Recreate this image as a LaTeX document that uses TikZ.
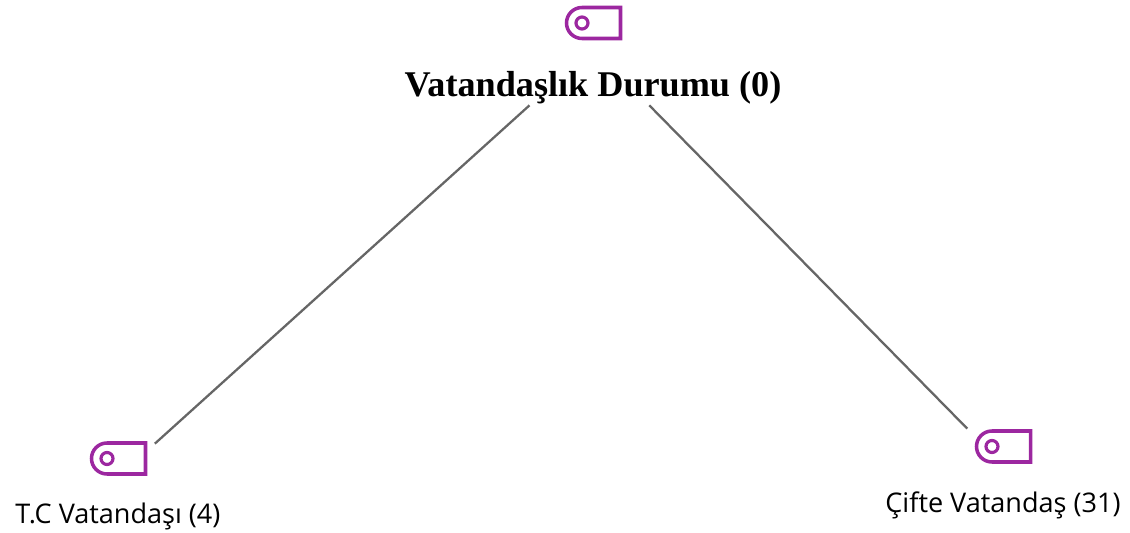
\documentclass[tikz,border=0pt]{standalone}
\usepackage{fontspec}
\setmainfont{Open Sans}
\newfontfamily\titlefont{Liberation Serif}
\definecolor{tagpurple}{HTML}{9C27A0}
\definecolor{edgegray}{HTML}{666666}
\tikzset{
  tag/.pic={
    \draw [tagpurple, line width=2pt, line join=miter]
      (38.5,-15.5) -- (0,-15.5) arc[start angle=270, end angle=90, radius=15.5] -- (38.5,15.5) -- cycle;
    \draw [tagpurple, line width=1.8pt] (0,0) circle[radius=6];
  },
  hub/.style={minimum width=6cm, minimum height=2.28cm, inner sep=0pt},
  leaf/.style={minimum width=4cm, inner sep=0pt},
  edge/.style={edgegray, line width=1.3pt},
  titletext/.style={inner sep=0pt, font=\titlefont\bfseries\fontsize{20.6}{24}\selectfont},
  leaftext/.style={inner sep=0pt, font=\fontsize{15.4}{18}\selectfont}
}
\begin{document}
\begin{tikzpicture}[x=0.02cm, y=-0.02cm]
    \useasboundingbox (0, 0) rectangle (1130, 533);
    \pic at (582, 23) {tag};
    \pic at (107, 458.5) {tag};
    \pic at (992, 446.5) {tag};
    \node [titletext] (t) at (593, 88) {Vatandaşlık Durumu (0)};
    \node [leaftext] (l) at (118, 516) {T.C Vatandaşı (4)};
    \node [leaftext] (r) at (1003, 505) {Çifte Vatandaş (31)};
    \node [hub] (a) at (593, 48) {};
    \node [leaf, minimum height=1.32cm] (b) at (118, 477) {};
    \node [leaf, minimum height=1.44cm] (c) at (1003, 465) {};
    \draw [edge] (a) to (b);
    \draw [edge] (a) to (c);
\end{tikzpicture}
\end{document}
